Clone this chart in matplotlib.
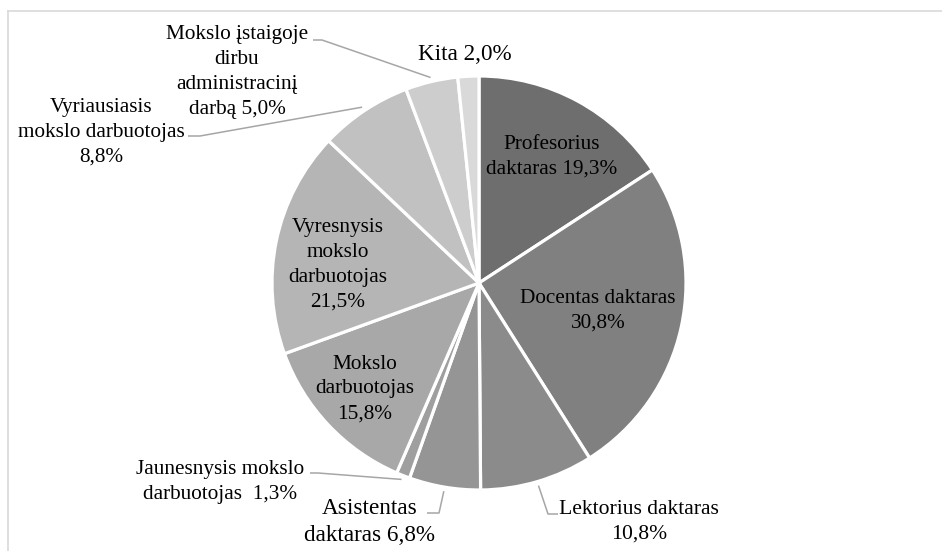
import numpy as np
import matplotlib.pyplot as plt
from matplotlib.lines import Line2D

# data, clockwise from 12 o'clock
categories = [
    'Profesorius daktaras', 'Docentas daktaras', 'Lektorius daktaras',
    'Asistentas daktaras', 'Jaunesnysis mokslo darbuotojas',
    'Mokslo darbuotojas', 'Vyresnysis mokslo darbuotojas',
    'Vyriausiasis mokslo darbuotojas',
    'Mokslo įstaigoje dirbu administracinį darbą', 'Kita',
]
values = [19.3, 30.8, 10.8, 6.8, 1.3, 15.8, 21.5, 8.8, 5.0, 2.0]
label_fmt = [
    'Profesorius\ndaktaras {}',
    'Docentas daktaras\n{}',
    'Lektorius daktaras\n{}',
    'Asistentas\ndaktaras {}',
    'Jaunesnysis mokslo\ndarbuotojas  {}',
    'Mokslo\ndarbuotojas\n{}',
    'Vyresnysis\nmokslo\ndarbuotojas\n{}',
    'Vyriausiasis\nmokslo darbuotojas\n{}',
    'Mokslo įstaigoje\ndirbu\nadministracinį\ndarbą {}',
    'Kita {}',
]
colors = ['#6e6e6e', '#808080', '#8b8b8b', '#959595', '#9f9f9f',
          '#a8a8a8', '#b5b5b5', '#c1c1c1', '#cdcdcd', '#d9d9d9']

W, H = 942, 551
center = (479, H - 283)
radius = 207

# label layout: (x, y from top), font size, leader elbow points (y from top)
label_pos = [(552, 157), (598, 311), (639, 522), (370, 522), (220, 482),
             (365, 389), (338, 265), (101, 132), (237, 72), (465, 54)]
label_size = [15.3, 15.3, 15.6, 16.7, 15.3, 15.3, 15.3, 15.3, 15.3, 16.7]
leaders = {
    2: [(548, 514), (558, 514)],
    3: [(439, 513), (427, 513)],
    4: [(318, 473), (310, 473)],
    7: [(200, 136), (188, 136)],
    8: [(322, 40), (313, 40)],
}

plt.rcParams['font.family'] = 'serif'
plt.rcParams['font.serif'] = ['Liberation Serif', 'DejaVu Serif']

fig = plt.figure(figsize=(W / 100, H / 100), dpi=100)
ax = fig.add_axes([0, 0, 1, 1])

wedges, _ = ax.pie(
    values,
    colors=colors,
    startangle=90,
    counterclock=False,
    center=center,
    radius=radius,
    wedgeprops=dict(edgecolor='white', linewidth=2.3),
)
ax.set_xlim(0, W)
ax.set_ylim(0, H)
ax.set_aspect('equal')
ax.axis('off')

for i, w in enumerate(wedges):
    pct = '{:.1f}%'.format(values[i]).replace('.', ',')
    x, y = label_pos[i]
    ax.text(x, H - y, label_fmt[i].format(pct), ha='center', va='center',
            multialignment='center', fontsize=label_size[i],
            linespacing=1.42, color='black')
    if i in leaders:
        mid = np.deg2rad((w.theta1 + w.theta2) / 2)
        sx = center[0] + radius * 1.02 * np.cos(mid)
        sy = center[1] + radius * 1.02 * np.sin(mid)
        xs = [sx] + [p[0] for p in leaders[i]]
        ys = [sy] + [H - p[1] for p in leaders[i]]
        ax.plot(xs, ys, color='#a6a6a6', lw=1.1, solid_capstyle='butt')

# chart frame (right and bottom edges fall outside the image)
ax.add_line(Line2D([8, 8], [0, H - 11], color='#d9d9d9', lw=1.2))
ax.add_line(Line2D([8, W], [H - 11, H - 11], color='#d9d9d9', lw=1.2))

fig.savefig('out.png', dpi=100)
